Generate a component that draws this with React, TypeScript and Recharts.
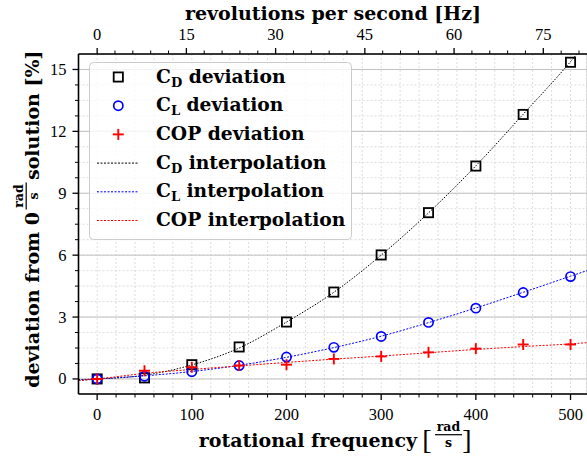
import React from 'react';
import { ComposedChart, Line, Scatter, XAxis, YAxis, CartesianGrid, Legend, Label } from 'recharts';

// ---------- data ----------
const rotFreq = [0, 50, 100, 150, 200, 250, 300, 350, 400, 450, 500];
const cdDeviation = [0, 0.05, 0.69, 1.55, 2.76, 4.21, 6.01, 8.06, 10.32, 12.82, 15.35];
const clDeviation = [0, 0.13, 0.35, 0.65, 1.06, 1.53, 2.06, 2.74, 3.43, 4.19, 4.96];
const copDeviation = [0, 0.4, 0.57, 0.65, 0.69, 0.97, 1.09, 1.29, 1.47, 1.67, 1.67];

const interpFreq = [-19.7, 0, 50, 100, 150, 200, 250, 300, 350, 400, 450, 500, 517.4];
const cdInterp = [-0.03, 0, 0.18, 0.68, 1.5, 2.76, 4.2, 6.0, 8.05, 10.33, 12.83, 15.38, 16.35];
const clInterp = [-0.07, 0, 0.15, 0.36, 0.66, 1.05, 1.52, 2.07, 2.73, 3.44, 4.2, 4.98, 5.25];
const copInterp = [-0.08, 0, 0.27, 0.46, 0.63, 0.8, 0.96, 1.11, 1.27, 1.43, 1.57, 1.7, 1.76];

// ---------- ticks ----------
const xMajor = [0, 100, 200, 300, 400, 500];
const xMinor = [0, 20, 40, 60, 80, 100, 120, 140, 160, 180, 200, 220, 240, 260, 280, 300, 320, 340, 360, 380, 400, 420, 440, 460, 480, 500];
const yMajor = [0, 3, 6, 9, 12, 15];
const yMinor = [0, 0.75, 1.5, 2.25, 3, 3.75, 4.5, 5.25, 6, 6.75, 7.5, 8.25, 9, 9.75, 10.5, 11.25, 12, 12.75, 13.5, 14.25, 15];
const hzMajor = [0, 15, 30, 45, 60, 75];
const hzMinor = [0, 3, 6, 9, 12, 15, 18, 21, 24, 27, 30, 33, 36, 39, 42, 45, 48, 51, 54, 57, 60, 63, 66, 69, 72, 75, 78, 81];

// ---------- text ----------
const xTitle = 'rotational frequency';
const topTitle = 'revolutions per second [Hz]';
const yTitleA = 'deviation from 0';
const yTitleB = 'solution [%]';
const fracNum = 'rad';
const fracDen = 's';
const legendLabels = [
  { main: 'C', sub: 'D', rest: ' deviation' },
  { main: 'C', sub: 'L', rest: ' deviation' },
  { main: 'COP', sub: '', rest: ' deviation' },
  { main: 'C', sub: 'D', rest: ' interpolation' },
  { main: 'C', sub: 'L', rest: ' interpolation' },
  { main: 'COP', sub: '', rest: ' interpolation' },
];
const legendKinds = ['square', 'circle', 'plus', 'line', 'line', 'line'];
const legendColors = ['#000000', '#0000ff', '#ff0000', '#000000', '#0000ff', '#ff0000'];

// ---------- styles ----------
const W = 587;
const H = 457;
const TWO_PI = 2 * Math.PI;
const X_DOMAIN: [number, number] = [-19.7, 517.4];
const Y_DOMAIN: [number, number] = [-0.73, 15.75];
const LABEL_FONT = "'DejaVu Serif', serif";
const LABEL_SIZE = 19;
const LEGEND_SIZE = 18.7;
const TICK_FONT = "'Liberation Serif', serif";
const TICK_SIZE = 16.5;

const topTickPositions = hzMinor.map((h) => h * TWO_PI);

const toPoints = (xs: number[], ys: number[]) => xs.map((x, i) => ({ x, y: ys[i] }));

const cdPts = toPoints(rotFreq, cdDeviation);
const clPts = toPoints(rotFreq, clDeviation);
const copPts = toPoints(rotFreq, copDeviation);
const cdLine = toPoints(interpFreq, cdInterp);
const clLine = toPoints(interpFreq, clInterp);
const copLine = toPoints(interpFreq, copInterp);

const SquareMarker = (p: any) => (
  <rect x={p.cx - 4.6} y={p.cy - 4.6} width={9.2} height={9.2} fill="none" stroke="#000" strokeWidth={1.8} />
);
const CircleMarker = (p: any) => (
  <circle cx={p.cx} cy={p.cy} r={4.6} fill="none" stroke="#0000ff" strokeWidth={1.7} />
);
const PlusMarker = (p: any) => (
  <g stroke="#ff0000" strokeWidth={1.9}>
    <line x1={p.cx - 5.5} x2={p.cx + 5.5} y1={p.cy} y2={p.cy} />
    <line x1={p.cx} x2={p.cx} y1={p.cy - 5.5} y2={p.cy + 5.5} />
  </g>
);

const BottomTick = (props: any) => {
  const { x, y, payload } = props;
  const v = payload.value;
  const major = xMajor.includes(v);
  return (
    <g>
      <line x1={x} x2={x} y1={y} y2={y + (major ? 6 : 3.5)} stroke="#000" strokeWidth={major ? 1.3 : 1} />
      {major && (
        <text x={x} y={y + 26} textAnchor="middle" fontFamily={TICK_FONT} fontSize={TICK_SIZE} fill="#000">
          {v}
        </text>
      )}
    </g>
  );
};

const TopTick = (props: any) => {
  const { x, y, payload } = props;
  const hz = Math.round(payload.value / TWO_PI);
  const major = hzMajor.includes(hz);
  return (
    <g>
      <line x1={x} x2={x} y1={y} y2={y - (major ? 6 : 3.5)} stroke="#000" strokeWidth={major ? 1.3 : 1} />
      {major && (
        <text x={x} y={y - 14.5} textAnchor="middle" fontFamily={TICK_FONT} fontSize={TICK_SIZE} fill="#000">
          {hz}
        </text>
      )}
    </g>
  );
};

const LeftTick = (props: any) => {
  const { x, y, payload } = props;
  const v = payload.value;
  const major = yMajor.includes(v);
  return (
    <g>
      <line x1={x} x2={x - (major ? 6 : 3.5)} y1={y} y2={y} stroke="#000" strokeWidth={major ? 1.3 : 1} />
      {major && (
        <text x={x - 12} y={y + 5.5} textAnchor="end" fontFamily={TICK_FONT} fontSize={TICK_SIZE} fill="#000">
          {v}
        </text>
      )}
    </g>
  );
};

const Fraction = ({ cx, base }: { cx: number; base: number }) => (
  <g>
    <text x={cx} y={base - 16} textAnchor="middle" fontFamily={LABEL_FONT} fontWeight="bold" fontSize={12.5} fill="#000">
      {fracNum}
    </text>
    <line x1={cx - 13.5} x2={cx + 13.5} y1={base - 12.3} y2={base - 12.3} stroke="#000" strokeWidth={1.2} />
    <text x={cx} y={base - 0.5} textAnchor="middle" fontFamily={LABEL_FONT} fontWeight="bold" fontSize={12.5} fill="#000">
      {fracDen}
    </text>
  </g>
);

const BottomTitle = () => (
  <g>
    <text x={417} y={447} textAnchor="end" fontFamily={LABEL_FONT} fontWeight="bold" fontSize={LABEL_SIZE} fill="#000">
      {xTitle}
    </text>
    <text x={427} y={449} textAnchor="middle" fontFamily={TICK_FONT} fontSize={28} fill="#000">[</text>
    <Fraction cx={448.5} base={447} />
    <text x={467} y={449} textAnchor="middle" fontFamily={TICK_FONT} fontSize={28} fill="#000">]</text>
  </g>
);

const TopTitle = () => (
  <text x={333} y={20} textAnchor="middle" fontFamily={LABEL_FONT} fontWeight="bold" fontSize={LABEL_SIZE} fill="#000">
    {topTitle}
  </text>
);

const LeftTitle = () => (
  <g transform="translate(38.5,393) rotate(-90)">
    <text x={181} y={0} textAnchor="end" fontFamily={LABEL_FONT} fontWeight="bold" fontSize={LABEL_SIZE} fill="#000">
      {yTitleA}
    </text>
    <Fraction cx={197} base={0} />
    <text x={213} y={0} textAnchor="start" fontFamily={LABEL_FONT} fontWeight="bold" fontSize={LABEL_SIZE} fill="#000">
      {yTitleB}
    </text>
  </g>
);

const rowY = [15, 43.7, 72.4, 101.1, 129.8, 158.5];

const renderLegend = () => (
  <svg width={263} height={178} style={{ display: 'block' }}>
    <rect x={0.5} y={0.5} width={262} height={177} rx={4} ry={4} fill="#ffffff" fillOpacity={0.8} stroke="#cccccc" strokeWidth={1} />
    {legendLabels.map((lab, i) => {
      const cy = rowY[i];
      const kind = legendKinds[i];
      const color = legendColors[i];
      let marker: React.ReactNode = null;
      if (kind === 'square') marker = <SquareMarker cx={29.3} cy={cy} />;
      else if (kind === 'circle') marker = <CircleMarker cx={29.3} cy={cy} />;
      else if (kind === 'plus') marker = <PlusMarker cx={29.3} cy={cy} />;
      else marker = <line x1={8} x2={50} y1={cy} y2={cy} stroke={color} strokeWidth={1} strokeDasharray="2 1.5" />;
      return (
        <g key={i}>
          {marker}
          <text x={67} y={cy + 5.5} fontFamily={LABEL_FONT} fontWeight="bold" fontSize={LEGEND_SIZE} fill="#000">
            <tspan>{lab.main}</tspan>
            {lab.sub ? (
              <tspan dy={4} fontSize={13}>{lab.sub}</tspan>
            ) : null}
            <tspan dy={lab.sub ? -4 : 0}>{lab.rest}</tspan>
          </text>
        </g>
      );
    })}
  </svg>
);

export default function App() {
  return (
    <div style={{ position: 'absolute', left: 0, top: 0, width: W, height: H, background: '#fff' }}>
      <ComposedChart width={W} height={H} margin={{ top: 0, right: 0, bottom: 0, left: 0 }}>
        <XAxis
          xAxisId="x"
          dataKey="x"
          type="number"
          orientation="bottom"
          domain={X_DOMAIN}
          allowDataOverflow
          ticks={xMinor}
          interval={0}
          height={63}
          tickSize={0}
          tickMargin={0}
          tickLine={false}
          tick={<BottomTick />}
          axisLine={{ stroke: '#000', strokeWidth: 1.6 }}
        >
          <Label content={() => <BottomTitle />} />
        </XAxis>
        <XAxis
          xAxisId="top"
          dataKey="x"
          type="number"
          orientation="top"
          domain={X_DOMAIN}
          allowDataOverflow
          ticks={topTickPositions}
          interval={0}
          height={54}
          tickSize={0}
          tickMargin={0}
          tickLine={false}
          tick={<TopTick />}
          axisLine={{ stroke: '#000', strokeWidth: 1.6 }}
        >
          <Label content={() => <TopTitle />} />
        </XAxis>
        <XAxis xAxisId="xmaj" type="number" domain={X_DOMAIN} allowDataOverflow ticks={xMajor} hide />
        <YAxis
          yAxisId="y"
          dataKey="y"
          type="number"
          domain={Y_DOMAIN}
          allowDataOverflow
          ticks={yMinor}
          interval={0}
          width={78.5}
          tickSize={0}
          tickMargin={0}
          tickLine={false}
          tick={<LeftTick />}
          axisLine={{ stroke: '#000', strokeWidth: 1.6 }}
        >
          <Label content={() => <LeftTitle />} />
        </YAxis>
        <YAxis yAxisId="ymaj" type="number" domain={Y_DOMAIN} allowDataOverflow ticks={yMajor} hide />

        <CartesianGrid xAxisId="x" yAxisId="y" stroke="#d4d4d4" strokeWidth={0.8} strokeDasharray="2 2" />
        <CartesianGrid xAxisId="xmaj" yAxisId="ymaj" stroke="#c2c2c2" strokeWidth={1} />

        <Scatter data={cdPts} xAxisId="x" yAxisId="y" shape={SquareMarker} isAnimationActive={false} />
        <Scatter data={clPts} xAxisId="x" yAxisId="y" shape={CircleMarker} isAnimationActive={false} />
        <Scatter data={copPts} xAxisId="x" yAxisId="y" shape={PlusMarker} isAnimationActive={false} />

        <Line data={cdLine} dataKey="y" xAxisId="top" yAxisId="y" type="monotone" stroke="#000000" strokeWidth={1} strokeDasharray="1.5 1.5" dot={false} activeDot={false} isAnimationActive={false} />
        <Line data={clLine} dataKey="y" xAxisId="top" yAxisId="y" type="monotone" stroke="#0000ff" strokeWidth={1} strokeDasharray="2 1.5" dot={false} activeDot={false} isAnimationActive={false} />
        <Line data={copLine} dataKey="y" xAxisId="top" yAxisId="y" type="monotone" stroke="#ff0000" strokeWidth={1} strokeDasharray="2 1.5" dot={false} activeDot={false} isAnimationActive={false} />

        <Legend
          layout="vertical"
          align="center"
          verticalAlign="middle"
          content={renderLegend}
          wrapperStyle={{ left: 89, top: 62, width: 263, height: 178 }}
        />
      </ComposedChart>
    </div>
  );
}
